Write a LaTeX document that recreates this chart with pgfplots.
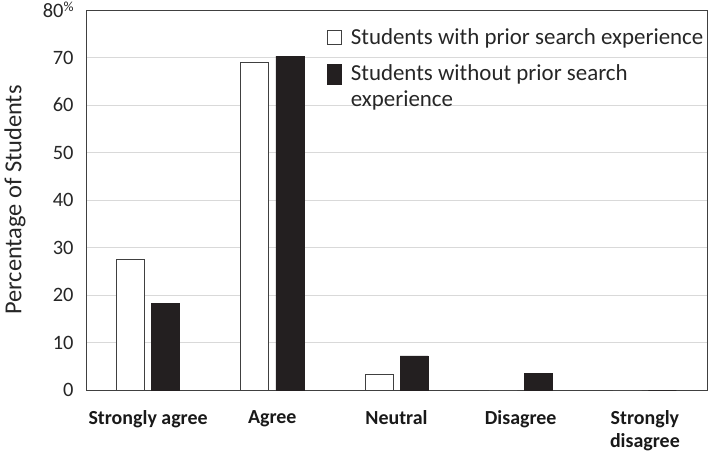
\documentclass[border=0pt]{standalone}
\usepackage{pgfplots}
\pgfplotsset{compat=1.18}
\usepackage{fontspec}
\setmainfont{Carlito}
\definecolor{barblack}{HTML}{231F20}
\definecolor{gridgray}{HTML}{D9D9D9}
\begin{document}
\begin{tikzpicture}
\begin{axis}[
  scale only axis,
  width=621bp, height=380bp,
  ybar=7bp, bar width=28bp,
  xmin=-0.5, xmax=4.5,
  ymin=0, ymax=80,
  xtick={0,1,2,3,4},
  xticklabels={Strongly agree,Agree,Neutral,Disagree,{Strongly\\disagree}},
  x tick label style={font=\fontsize{20}{23}\selectfont\bfseries, text=black!90, align=center, anchor=north, yshift=-13bp},
  xtick style={draw=none},
  ytick={0,10,20,30,40,50,60,70,80},
  yticklabels={0,10,20,30,40,50,60,70,{80\raisebox{0.3em}{\fontsize{14}{14}\selectfont\%}}},
  y tick label style={font=\fontsize{20.5}{22}\selectfont, text=black!85, xshift=-9bp},
  /pgf/number format/assume math mode=true,
  ytick style={draw=none},
  ymajorgrids, grid style={gridgray, line width=1pt},
  axis line style={draw=black!75, line width=1pt},
  ylabel={Percentage of Students},
  ylabel style={font=\fontsize{24.5}{26}\selectfont, text=black!85, at={(axis description cs:-0.137,0.5)}, anchor=north},
  legend cell align=left,
  legend style={draw=none, fill=none, at={(axis description cs:0.383,0.963)}, anchor=north west,
    font=\fontsize{23}{27}\selectfont, text=black!85,
    nodes={align=left, inner xsep=9bp}, row sep=12bp},
]
\addplot[draw=black!75, fill=white, line width=1pt,
  legend image code/.code={\draw[draw=black!75, fill=white, line width=0.8pt] (0bp,-7bp) rectangle (14bp,7bp);}]
  coordinates {(0,27.5) (1,69) (2,3.3) (3,0) (4,0)};
\addlegendentry{Students with prior search experience}
\addplot[draw=barblack, fill=barblack, line width=0.5pt,
  legend image code/.code={\draw[draw=barblack, fill=barblack, line width=0.5pt] (0bp,-12bp) rectangle (14bp,8bp);}]
  coordinates {(0,18.3) (1,70.3) (2,7.2) (3,3.5) (4,0)};
\addlegendentry{\begin{tabular}[t]{@{}l@{}}Students without prior search\\[-1bp]experience\end{tabular}}
\end{axis}
\pgfresetboundingbox
\path ([shift={(-86bp,-62bp)}]current axis.south west) rectangle ([shift={(3bp,10bp)}]current axis.north east);
\end{tikzpicture}
\end{document}
